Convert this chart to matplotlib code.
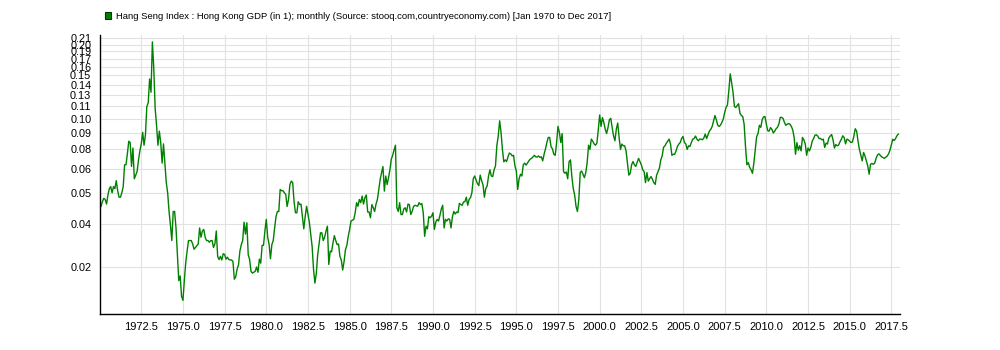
import matplotlib
matplotlib.use("Agg")
import matplotlib.pyplot as plt
from matplotlib.patches import Patch
from matplotlib.ticker import FixedLocator, NullLocator, FixedFormatter
import numpy as np

# Monthly ratio Hang Seng Index : Hong Kong GDP, Jan 1970 .. Dec 2017
hsi_gdp_1970s = [
    0.0435, 0.044, 0.046, 0.0475, 0.047, 0.045, 0.049, 0.052, 0.053, 0.050, 0.053, 0.052,
    0.056, 0.051, 0.048, 0.048, 0.050, 0.053, 0.065, 0.065, 0.072, 0.081, 0.080, 0.064,
    0.076, 0.057, 0.059, 0.061, 0.068, 0.074, 0.079, 0.088, 0.078, 0.086, 0.112, 0.116,
    0.145, 0.128, 0.205, 0.160, 0.110, 0.094, 0.078, 0.089, 0.080, 0.066, 0.079, 0.066,
    0.055, 0.050, 0.042, 0.037, 0.032, 0.042, 0.042, 0.036, 0.028, 0.022, 0.023, 0.019,
    0.0183, 0.022, 0.026, 0.029, 0.032, 0.032, 0.032, 0.031, 0.0295, 0.030, 0.0305, 0.031,
    0.036, 0.033, 0.035, 0.0355, 0.033, 0.032, 0.032, 0.0315, 0.032, 0.032, 0.030, 0.031,
    0.035, 0.0276, 0.0268, 0.0276, 0.0267, 0.0283, 0.0281, 0.0269, 0.0274, 0.0268, 0.0267, 0.0267,
    0.0263, 0.0223, 0.0228, 0.0245, 0.0255, 0.029, 0.0308, 0.032, 0.038, 0.034, 0.0378, 0.028,
    0.0268, 0.024, 0.0236, 0.0238, 0.024, 0.025, 0.0238, 0.0269, 0.0259, 0.0306, 0.0306, 0.035,
]
hsi_gdp_1980s = [
    0.039, 0.033, 0.031, 0.027, 0.0308, 0.032, 0.036, 0.040, 0.042, 0.042, 0.0516, 0.051,
    0.051, 0.050, 0.0493, 0.044, 0.047, 0.054, 0.0558, 0.055, 0.046, 0.0415, 0.0415, 0.046,
    0.0448, 0.045, 0.040, 0.0357, 0.040, 0.0441, 0.041, 0.038, 0.034, 0.0303, 0.0245, 0.0215,
    0.0235, 0.028, 0.031, 0.0344, 0.0344, 0.032, 0.033, 0.035, 0.0366, 0.0256, 0.029, 0.0288,
    0.0313, 0.0335, 0.032, 0.0308, 0.031, 0.0276, 0.0267, 0.0243, 0.0263, 0.0294, 0.0306, 0.0333,
    0.0355, 0.0384, 0.0387, 0.039, 0.0415, 0.0456, 0.0441, 0.047, 0.0456, 0.0485, 0.045, 0.0478,
    0.049, 0.0418, 0.0418, 0.0396, 0.0448, 0.0435, 0.042, 0.045, 0.047, 0.0516, 0.0567, 0.0604,
    0.0639, 0.0508, 0.0585, 0.054, 0.0576, 0.062, 0.0685, 0.071, 0.0747, 0.078, 0.0435, 0.042,
    0.0456, 0.0408, 0.0408, 0.043, 0.0435, 0.0418, 0.045, 0.0448, 0.0408, 0.042, 0.044, 0.0445,
    0.0443, 0.0441, 0.0456, 0.0448, 0.0452, 0.0415, 0.0333, 0.0366, 0.0357, 0.040, 0.0396, 0.0402,
]
hsi_gdp_1990s = [
    0.0415, 0.0355, 0.038, 0.039, 0.0384, 0.0405, 0.043, 0.0445, 0.036, 0.039, 0.0384, 0.0392,
    0.039, 0.036, 0.040, 0.042, 0.041, 0.0418, 0.0415, 0.0453, 0.0448, 0.0445, 0.0459, 0.046,
    0.048, 0.0445, 0.047, 0.0478, 0.050, 0.057, 0.0585, 0.0565, 0.0545, 0.0535, 0.059, 0.056,
    0.054, 0.048, 0.052, 0.0533, 0.0585, 0.062, 0.0585, 0.0582, 0.062, 0.0643, 0.078, 0.085,
    0.098, 0.088, 0.075, 0.0668, 0.068, 0.067, 0.070, 0.0725, 0.072, 0.0706, 0.071, 0.0643,
    0.0613, 0.0516, 0.057, 0.0595, 0.0585, 0.065, 0.066, 0.0648, 0.066, 0.0674, 0.0685, 0.069,
    0.070, 0.071, 0.070, 0.0698, 0.0706, 0.0696, 0.070, 0.0674, 0.0717, 0.0754, 0.080, 0.0839,
    0.0839, 0.077, 0.0754, 0.0717, 0.071, 0.080, 0.093, 0.088, 0.080, 0.087, 0.061, 0.060,
    0.0608, 0.057, 0.067, 0.068, 0.058, 0.052, 0.049, 0.044, 0.042, 0.047, 0.0604, 0.0613,
    0.0595, 0.0576, 0.0604, 0.0663, 0.078, 0.075, 0.0826, 0.081, 0.079, 0.078, 0.0796, 0.090,
]
hsi_gdp_2000s = [
    0.1035, 0.093, 0.101, 0.0965, 0.0907, 0.087, 0.092, 0.099, 0.1003, 0.092, 0.0852, 0.0813,
    0.0907, 0.096, 0.0839, 0.075, 0.0789, 0.0776, 0.0776, 0.074, 0.066, 0.059, 0.060, 0.065,
    0.067, 0.065, 0.064, 0.0665, 0.069, 0.067, 0.065, 0.062, 0.061, 0.055, 0.0604, 0.0558,
    0.0571, 0.0582, 0.0567, 0.055, 0.0541, 0.059, 0.061, 0.063, 0.068, 0.0706, 0.0765, 0.0776,
    0.0795, 0.081, 0.0826, 0.079, 0.071, 0.0717, 0.0717, 0.074, 0.0771, 0.0789, 0.080, 0.0831,
    0.0847, 0.080, 0.079, 0.075, 0.0776, 0.0771, 0.080, 0.0826, 0.0831, 0.085, 0.0826, 0.0813,
    0.0826, 0.0826, 0.0821, 0.0835, 0.0866, 0.083, 0.086, 0.089, 0.0905, 0.093, 0.098, 0.103,
    0.099, 0.094, 0.093, 0.0942, 0.0966, 0.0996, 0.106, 0.1112, 0.1137, 0.130, 0.152, 0.140,
    0.128, 0.112, 0.111, 0.113, 0.115, 0.1052, 0.103, 0.102, 0.095, 0.077, 0.065, 0.0663,
    0.0635, 0.062, 0.060, 0.066, 0.075, 0.0845, 0.087, 0.094, 0.0922, 0.099, 0.1017, 0.102,
]
hsi_gdp_2010s = [
    0.095, 0.0893, 0.089, 0.092, 0.0905, 0.0875, 0.089, 0.091, 0.0922, 0.095, 0.1012, 0.1012,
    0.1003, 0.0966, 0.094, 0.095, 0.0955, 0.095, 0.093, 0.090, 0.084, 0.0717, 0.080, 0.0745,
    0.0776, 0.074, 0.0839, 0.082, 0.079, 0.071, 0.076, 0.074, 0.0764, 0.081, 0.083, 0.0857,
    0.086, 0.085, 0.083, 0.0831, 0.082, 0.0826, 0.0764, 0.0796, 0.0789, 0.0835, 0.085, 0.0862,
    0.082, 0.076, 0.0785, 0.0776, 0.0781, 0.0805, 0.0826, 0.0852, 0.0839, 0.079, 0.0826, 0.082,
    0.081, 0.080, 0.0805, 0.085, 0.091, 0.089, 0.081, 0.075, 0.071, 0.0674, 0.0729, 0.0706,
    0.0674, 0.0643, 0.0595, 0.0653, 0.0658, 0.0653, 0.066, 0.069, 0.0712, 0.072, 0.071, 0.070,
    0.0695, 0.069, 0.0698, 0.0705, 0.072, 0.0745, 0.0785, 0.0825, 0.0815, 0.083, 0.0852, 0.0866,
]

start_year = 1970
y_tick_values = [0.025, 0.0375, 0.05, 0.0625, 0.075, 0.0875, 0.10, 0.1125, 0.125,
                 0.1375, 0.15, 0.1625, 0.175, 0.1875, 0.20, 0.2125]
y_tick_labels = ["0.02", "0.04", "0.05", "0.06", "0.08", "0.09", "0.10", "0.11", "0.13",
                 "0.14", "0.15", "0.16", "0.17", "0.19", "0.20", "0.21"]
x_tick_values = [1972.5, 1975.0, 1977.5, 1980.0, 1982.5, 1985.0, 1987.5, 1990.0, 1992.5,
                 1995.0, 1997.5, 2000.0, 2002.5, 2005.0, 2007.5, 2010.0, 2012.5, 2015.0, 2017.5]
x_tick_labels = [f"{v:.1f}" for v in x_tick_values]
legend_label = ("Hang Seng Index : Hong Kong GDP (in 1); monthly "
                "(Source: stooq.com,countryeconomy.com) [Jan 1970 to Dec 2017]")

values = np.array(hsi_gdp_1970s + hsi_gdp_1980s + hsi_gdp_1990s + hsi_gdp_2000s + hsi_gdp_2010s)
dates = start_year + np.arange(len(values)) / 12.0

plt.rcParams["font.family"] = ["Liberation Sans", "DejaVu Sans"]

fig = plt.figure(figsize=(10, 3.5), dpi=100)
ax = fig.add_axes([0.0996, 0.1029, 0.8001, 0.7971])

line_color = "#008000"
ax.plot(dates, values, color=line_color, linewidth=1.0)

ax.set_yscale("log")
ax.set_ylim(0.01611, 0.2186)
ax.set_xlim(1970.0, 2018.0)

ax.yaxis.set_major_locator(FixedLocator(y_tick_values))
ax.yaxis.set_major_formatter(FixedFormatter(y_tick_labels))
ax.yaxis.set_minor_locator(NullLocator())
ax.xaxis.set_major_locator(FixedLocator(x_tick_values))
ax.xaxis.set_major_formatter(FixedFormatter(x_tick_labels))
ax.xaxis.set_minor_locator(NullLocator())

ax.grid(True, color="#e2e2e2", linewidth=0.8)
ax.set_axisbelow(True)
ax.tick_params(axis="x", length=0, labelsize=8, colors="#000000", pad=6)
ax.tick_params(axis="y", length=0, labelsize=7.8, colors="#000000", pad=6)

for side in ("top", "right"):
    ax.spines[side].set_visible(False)
for side in ("left", "bottom"):
    ax.spines[side].set_color("#000000")
    ax.spines[side].set_linewidth(1.0)

handle = Patch(facecolor=line_color, edgecolor="#003300", linewidth=0.8)
fig.legend(handles=[handle], labels=[legend_label], loc="center left",
           bbox_to_anchor=(0.105, 0.953), frameon=False, fontsize=6.8,
           handlelength=0.65, handleheight=0.65, handletextpad=0.5,
           borderaxespad=0, borderpad=0)

fig.savefig("out.png", dpi=100)
